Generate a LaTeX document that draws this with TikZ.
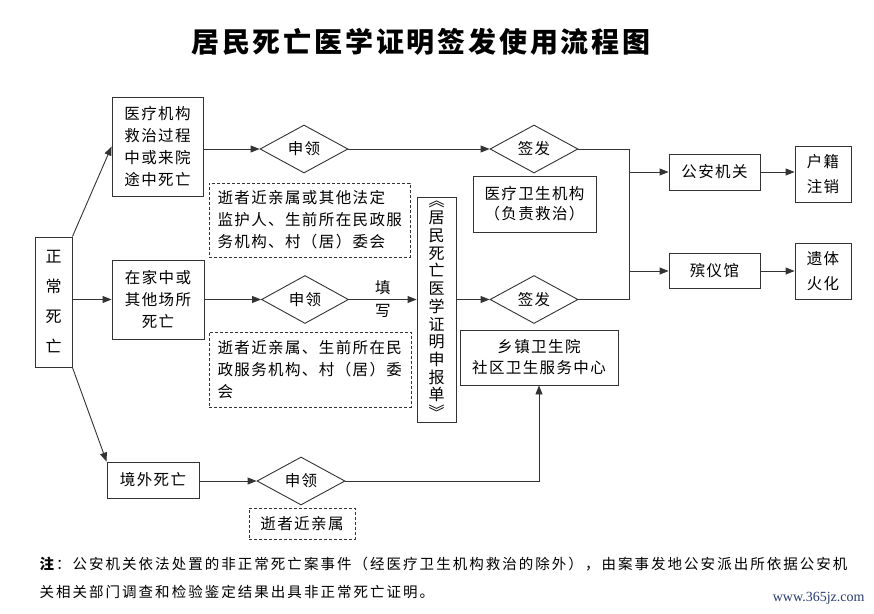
\documentclass[tikz,border=0pt]{standalone}
\usepackage{fontspec}
\setmainfont{Noto Sans CJK SC}
\newfontfamily\ls[LetterSpace=9]{Noto Sans CJK SC}
\newfontfamily\wmfont{Liberation Serif}
\usetikzlibrary{shapes.geometric,arrows.meta}
\begin{document}
\begin{tikzpicture}[x=1pt,y=-1pt,
  ln/.style={draw=black!80, line width=0.9pt},
  arr/.style={ln, -{Triangle[length=9pt,width=7pt]}},
  box/.style={ln, rectangle, inner sep=0pt, align=center, font=\ls\fontsize{15.5}{22}\selectfont},
  dbox/.style={ln, dashed, dash pattern=on 3pt off 2pt, rectangle, inner sep=0pt, align=left, font=\ls\fontsize{15.5}{22}\selectfont},
  dia/.style={ln, diamond, inner sep=0pt, font=\ls\fontsize{15.5}{18}\selectfont}
]
\useasboundingbox (0,0) rectangle (874,613);
\fill[white] (0,0) rectangle (874,613);

% title
\node[font=\bfseries\fontsize{28}{32}\selectfont\addfontfeature{LetterSpace=10}] (title) at (421,42) {居民死亡医学证明签发使用流程图};

% left column
\node[box, minimum width=37pt, minimum height=130pt, font=\fontsize{16}{30}\selectfont] (zc) at (53.5,302) {正\\常\\死\\亡};
\node[box, minimum width=91pt, minimum height=99pt] (b1) at (157.5,146.5) {医疗机构\\救治过程\\中或来院\\途中死亡};
\node[box, minimum width=92pt, minimum height=79pt] (b2) at (158,299.5) {在家中或\\其他场所\\死亡};
\node[box, minimum width=92pt, minimum height=36pt] (b3) at (153,480) {境外死亡};

% diamonds
\node[dia, minimum width=88pt, minimum height=48pt] (d1) at (304,149) {申领};
\node[dia, minimum width=87pt, minimum height=48pt] (d2) at (305,299.5) {申领};
\node[dia, minimum width=88pt, minimum height=48pt] (d3) at (301,481) {申领};
\node[dia, minimum width=88pt, minimum height=48pt] (s1) at (534,149) {签发};
\node[dia, minimum width=88pt, minimum height=48pt] (s2) at (534,299.5) {签发};

% dashed boxes
\node[dbox, minimum width=201pt, minimum height=74pt, text width=184pt] (n1) at (309.5,220) {逝者近亲属或其他法定\\监护人、生前所在民政服\\务机构、村（居）委会};
\node[dbox, minimum width=202pt, minimum height=75pt, text width=185pt] (n2) at (310,369.5) {逝者近亲属、生前所在民\\政服务机构、村（居）委\\会};
\node[dbox, minimum width=106pt, minimum height=31pt, align=center] (n3) at (302,523.5) {逝者近亲属};

% vertical form
\node[box, minimum width=39pt, minimum height=225pt, font=\fontsize{16}{17.7}\selectfont] (v) at (436.5,309.5) {︽\\居\\民\\死\\亡\\医\\学\\证\\明\\申\\报\\单\\︾};

% issuing bodies
\node[box, minimum width=123pt, minimum height=56pt, font=\ls\fontsize{15.5}{20}\selectfont] (m1) at (534.5,204) {医疗卫生机构\\（负责救治）};
\node[box, minimum width=158pt, minimum height=55pt, font=\ls\fontsize{15.5}{21}\selectfont] (m2) at (539,357.5) {乡镇卫生院\\社区卫生服务中心};

% right side
\node[box, minimum width=91pt, minimum height=36pt] (g) at (714.5,172) {公安机关};
\node[box, minimum width=91pt, minimum height=35pt] (y) at (714.5,271) {殡仪馆};
\node[box, minimum width=56pt, minimum height=56pt, font=\ls\fontsize{15.5}{25}\selectfont] (h) at (823,174) {户籍\\注销};
\node[box, minimum width=56pt, minimum height=56pt, font=\ls\fontsize{15.5}{25}\selectfont] (c) at (823,271) {遗体\\火化};

\coordinate (jt) at (629,149);
\coordinate (jb) at (629,299.5);

% connectors
\draw[arr] (zc.north east) -- (b1.west);
\draw[arr] (zc.east |- b2.west) -- (b2.west);
\draw[arr] (zc.south east) -- (b3.north west);
\draw[arr] (b1.east |- d1.west) -- (d1.west);
\draw[arr] (b2.east) -- (d2.west);
\draw[arr] (b3.east |- d3.west) -- (d3.west);
\draw[arr] (d1.east) -- (s1.west);
\draw[arr] (d2.east) -- node[pos=0.5, above=1pt, font=\fontsize{15.5}{18}\selectfont] (t1) {填} node[pos=0.5, below=1pt, font=\fontsize{15.5}{18}\selectfont] (t2) {写} (v.west |- d2.east);
\draw[arr] (v.east |- s2.west) -- (s2.west);
\draw[arr] (d3.east) -- (m2.south |- d3.east) -- (m2.south);
\draw[ln] (s1.east) -- (jt) -- (jb) -- (s2.east);
\draw[arr] (jt |- g.west) -- (g.west);
\draw[arr] (jt |- y.west) -- (y.west);
\draw[arr] (g.east) -- (h.west |- g.east);
\draw[arr] (y.east) -- (c.west |- y.east);

% note
\node[anchor=west, font=\fontsize{14.5}{16}\selectfont\addfontfeature{LetterSpace=14}] (note1) at (36,564) {\textbf{注}：公安机关依法处置的非正常死亡案事件（经医疗卫生机构救治的除外），由案事发地公安派出所依据公安机};
\node[anchor=west, font=\fontsize{14.5}{16}\selectfont\addfontfeature{LetterSpace=14}] (note2) at (36,592) {关相关部门调查和检验鉴定结果出具非正常死亡证明。};
\node[anchor=east, font=\wmfont\fontsize{14}{16}\selectfont, text={rgb,255:red,40;green,60;blue,110}] (wm) at (868,598) {www.365jz.com};
\end{tikzpicture}
\end{document}
